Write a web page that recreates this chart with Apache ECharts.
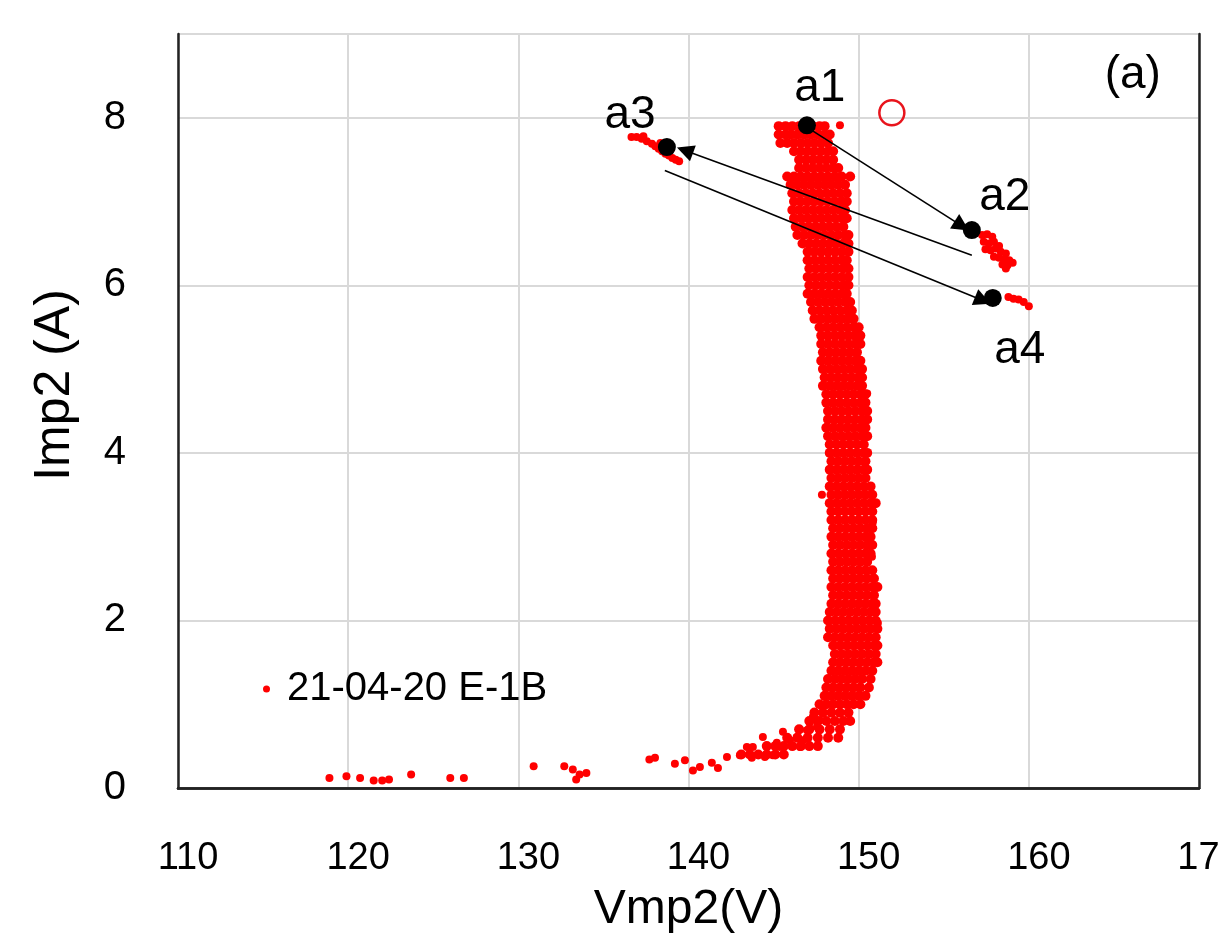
<!DOCTYPE html>
<html><head><meta charset="utf-8">
<script src="https://cdn.jsdelivr.net/npm/echarts@6/dist/echarts.min.js"></script>
<style>html,body{margin:0;padding:0;background:#fff}#c{width:1221px;height:934px}</style>
</head><body><div id="c"></div>
<script>
// ---- data ----
const seriesName = '21-04-20 E-1B';
const xTicks = [110, 120, 130, 140, 150, 160, 170];
const yTicks = [0, 2, 4, 6, 8];

// main band: current level of each row, and the voltages of the dots on that row
const bandCurrent = [7.9,7.8,7.7,7.6,7.5,7.4,7.3,7.2,7.1,7.0,6.9,6.8,6.7,6.6,6.5,6.4,6.3,6.2,6.1,6.0,
  5.9,5.8,5.7,5.6,5.5,5.4,5.3,5.2,5.1,5.0,4.9,4.8,4.7,4.6,4.5,4.4,4.3,4.2,4.1,4.0,
  3.9,3.8,3.7,3.6,3.5,3.4,3.3,3.2,3.1,3.0,2.9,2.8,2.7,2.6,2.5,2.4,2.3,2.2,2.1,2.0,
  1.9,1.8,1.7,1.6,1.5,1.4,1.3,1.2,1.1,1.0,0.9,0.8,0.7,0.6,0.5,0.4];
const bandVoltage = [
  [145.3,145.7,146.1,146.5,147.3,147.7,148.0],
  [145.3,145.7,146.0,146.4,146.8,147.2,147.6,148.0,148.3],
  [145.4,145.8,146.2,146.6,147.0,147.4,147.8,148.2],
  [146.2,146.6,147.0,147.4,147.8,148.2,148.5],
  [146.5,146.9,147.3,147.7,148.1,148.5],
  [146.5,146.9,147.3,147.7,148.1,148.5,148.8],
  [145.8,146.2,146.6,147.0,147.4,147.8,148.2,148.6,149.0,149.5],
  [146.0,146.4,146.8,147.2,147.6,148.0,148.4,148.8,149.2],
  [146.1,146.5,146.9,147.3,147.7,148.1,148.5,148.9,149.3],
  [146.2,146.6,147.0,147.4,147.8,148.2,148.6,149.0,149.3],
  [146.1,146.5,146.9,147.3,147.7,148.1,148.5,148.9,149.2],
  [146.2,146.6,147.0,147.4,147.8,148.2,148.6,149.0,149.3],
  [146.3,146.7,147.1,147.5,147.9,148.3,148.7,149.1],
  [146.4,146.8,147.2,147.6,148.0,148.4,148.8,149.2,149.4],
  [146.7,147.1,147.5,147.9,148.3,148.7,149.1,149.4],
  [147.0,147.4,147.8,148.2,148.6,149.0,149.4],
  [147.0,147.4,147.8,148.2,148.6,149.0,149.3],
  [147.1,147.5,147.9,148.3,148.7,149.1,149.4],
  [147.0,147.4,147.8,148.2,148.6,149.0,149.4],
  [147.1,147.5,147.9,148.3,148.7,149.1,149.4],
  [147.0,147.4,147.8,148.2,148.6,149.0,149.3],
  [147.2,147.6,148.0,148.4,148.8,149.2,149.5],
  [147.3,147.7,148.1,148.5,148.9,149.3,149.6],
  [147.4,147.8,148.2,148.6,149.0,149.4,149.7],
  [147.7,148.1,148.5,148.9,149.3,149.7,150.0],
  [147.8,148.2,148.6,149.0,149.4,149.8,150.1],
  [147.8,148.2,148.6,149.0,149.4,149.8,150.1],
  [147.9,148.3,148.7,149.1,149.5,149.9],
  [147.8,148.2,148.6,149.0,149.4,149.8,150.1],
  [147.9,148.3,148.7,149.1,149.5,149.9,150.2],
  [148.0,148.4,148.8,149.2,149.6,150.0,150.2],
  [147.9,148.3,148.7,149.1,149.5,149.9,150.2],
  [148.1,148.5,148.9,149.3,149.7,150.1,150.4],
  [148.1,148.5,148.9,149.3,149.7,150.1,150.4],
  [148.2,148.6,149.0,149.4,149.8,150.2,150.5],
  [148.2,148.6,149.0,149.4,149.8,150.2,150.5],
  [148.1,148.5,148.9,149.3,149.7,150.1,150.4],
  [148.2,148.6,149.0,149.4,149.8,150.2,150.5],
  [148.3,148.7,149.1,149.5,149.9,150.3],
  [148.3,148.7,149.1,149.5,149.9,150.3,150.5],
  [148.4,148.8,149.2,149.6,150.0,150.4],
  [148.3,148.7,149.1,149.5,149.9,150.3,150.5],
  [148.4,148.8,149.2,149.6,150.0,150.4],
  [148.3,148.7,149.1,149.5,149.9,150.3,150.7],
  [148.4,148.8,149.2,149.6,150.0,150.4,150.8],
  [148.3,148.7,149.1,149.5,149.9,150.3,150.7,151.0],
  [148.4,148.8,149.2,149.6,150.0,150.4,150.8],
  [148.4,148.8,149.2,149.6,150.0,150.4,150.8],
  [148.5,148.9,149.3,149.7,150.1,150.5,150.8],
  [148.4,148.8,149.2,149.6,150.0,150.4,150.7],
  [148.5,148.9,149.3,149.7,150.1,150.5,150.8],
  [148.4,148.8,149.2,149.6,150.0,150.4,150.7],
  [148.5,148.9,149.3,149.7,150.1,150.5],
  [148.4,148.8,149.2,149.6,150.0,150.4,150.8],
  [148.5,148.9,149.3,149.7,150.1,150.5,150.9],
  [148.4,148.8,149.2,149.6,150.0,150.4,150.8,151.1],
  [148.5,148.9,149.3,149.7,150.1,150.5,150.9],
  [148.4,148.8,149.2,149.6,150.0,150.4,150.8,151.0],
  [148.3,148.7,149.1,149.5,149.9,150.3,150.7,151.0],
  [148.2,148.6,149.0,149.4,149.8,150.2,150.6,151.0],
  [148.3,148.7,149.1,149.5,149.9,150.3,150.7,151.1],
  [148.2,148.6,149.0,149.4,149.8,150.2,150.6,151.0],
  [148.5,148.9,149.3,149.7,150.1,150.5,150.9,151.1],
  [148.6,149.0,149.4,149.8,150.2,150.6,151.0],
  [148.5,148.9,149.3,149.7,150.1,150.5,150.9,151.1],
  [148.4,148.8,149.2,149.6,150.0,150.4,150.8],
  [148.2,148.6,149.0,149.4,149.8,150.2,150.7],
  [148.1,148.5,148.9,149.3,149.7,150.1,150.6],
  [148.0,148.4,148.8,149.2,149.6,150.0,150.4],
  [147.7,148.1,148.5,148.9,149.3,149.7,150.1],
  [147.4,147.9,148.4,148.9,149.4],
  [147.1,147.6,148.1,148.6,149.1,149.5],
  [146.5,147.1,147.7,148.3,148.9],
  [145.8,146.4,147.0,147.6,148.2,148.8],
  [144.6,145.1,145.6,146.1,146.6,147.1,147.6],
  [143.1,143.6,144.1,144.6,145.1,145.6]
];
// stray dots and the low-current tail
const tailVoltage = [148.9,147.84,150.83,150.78,151.13,150.5,
  138.03,139.2,139.79,140.26,140.67,141.37,141.73,142.26,143.02,143.43,143.78,143.72,144.37,144.49,144.96,
  145.19,145.37,145.55,145.96,146.37,146.55,146.72,146.96,147.13,147.31,147.55,147.72,
  118.9,119.9,120.7,121.5,122.0,122.4,123.7,126.0,126.8,130.9,132.7,133.2,133.6,134.0,133.4,137.7];
const tailCurrent = [7.91,3.5,3.17,2.76,1.97,4.71,
  0.36,0.29,0.33,0.21,0.25,0.30,0.24,0.37,0.39,0.49,0.49,0.36,0.61,0.37,0.39,
  0.54,0.49,0.67,0.57,0.61,0.49,0.57,0.69,0.78,0.85,0.73,0.81,
  0.12,0.14,0.12,0.09,0.09,0.1,0.16,0.12,0.12,0.26,0.26,0.22,0.16,0.18,0.1,0.34];
// cluster near a3
const a3Voltage = [136.65,136.95,137.25,137.55,137.85,138.05,138.25,138.45,138.65,138.85,139.05,139.25,139.45,138.35,138.95,137.35];
const a3Current = [7.77,7.77,7.75,7.72,7.69,7.66,7.63,7.60,7.57,7.55,7.52,7.50,7.48,7.70,7.62,7.78];
// cluster near a2
const a2Voltage = [157.25,157.55,157.85,157.35,157.65,157.95,158.25,157.45,157.75,158.05,158.35,158.65,157.95,158.25,158.55,158.85,158.45,158.75,159.05,158.65];
const a2Current = [6.60,6.61,6.58,6.52,6.50,6.52,6.47,6.43,6.42,6.44,6.40,6.38,6.34,6.33,6.31,6.30,6.25,6.24,6.27,6.20];
// cluster near a4
const a4Voltage = [158.8,159.1,159.4,159.7,160.0];
const a4Current = [5.86,5.84,5.83,5.80,5.75];

// marked points a1..a4 (black) and the open circle
const keyNames = ['a1','a2','a3','a4'];
const keyVoltage = [146.96, 156.65, 138.73, 157.88];
const keyCurrent = [7.91, 6.66, 7.65, 5.85];
const openCircleV = [151.95];
const openCircleI = [8.06];
// text labels
const labelText = ['a1','a2','a3','a4','(a)'];
const labelVoltage = [147.72, 158.59, 136.56, 159.47, 166.11];
const labelCurrent = [8.35, 7.05, 8.03, 5.23, 8.51];
// arrows: start V, start I, end V, end I
const arrowStartV = [147.25, 156.65, 138.61];
const arrowStartI = [7.85, 6.36, 7.37];
const arrowEndV = [156.06, 139.79, 157.3];
const arrowEndI = [6.71, 7.61, 5.82];

// ---- build ----
const bandData = [];
bandCurrent.forEach((c, r) => bandVoltage[r].forEach(v => bandData.push([v, c])));
const otherData = [];
tailVoltage.forEach((v, k) => otherData.push([v, tailCurrent[k]]));
a3Voltage.forEach((v, k) => otherData.push([v, a3Current[k]]));
a2Voltage.forEach((v, k) => otherData.push([v, a2Current[k]]));
a4Voltage.forEach((v, k) => otherData.push([v, a4Current[k]]));

const FONT = "'Liberation Sans', Arial, sans-serif";
const BORDER = {show: true, lineStyle: {color: '#222', width: 2.5}};
const chart = echarts.init(document.getElementById('c'), null, {renderer: 'canvas'});
chart.setOption({
  animation: false,
  backgroundColor: '#fff',
  grid: {left: 178, right: 22, top: 34, bottom: 146, containLabel: false, outerBoundsMode: 'none'},
  legend: {
    data: [{name: seriesName, icon: 'circle', itemStyle: {color: '#ff0000', opacity: 1}}],
    left: 258, top: 664, itemWidth: 7, itemHeight: 7,
    textStyle: {fontFamily: FONT, fontSize: 40, color: '#000', padding: [0, 0, 0, 12]}
  },
  xAxis: [{
    type: 'value', min: xTicks[0], max: xTicks[xTicks.length - 1], interval: 10,
    name: 'Vmp2(V)', nameLocation: 'middle', nameGap: 98,
    nameTextStyle: {fontFamily: FONT, fontSize: 48, color: '#000'},
    axisLine: BORDER, axisTick: {show: false},
    axisLabel: {fontFamily: FONT, fontSize: 38, color: '#000', margin: 52, padding: [0, 0, 0, 20]},
    splitLine: {show: true, lineStyle: {color: '#d9d9d9', width: 2}}
  }, {
    type: 'value', position: 'top', min: xTicks[0], max: xTicks[xTicks.length - 1], interval: 10,
    axisLine: BORDER, axisTick: {show: false}, axisLabel: {show: false}, splitLine: {show: false}
  }],
  yAxis: [{
    type: 'value', min: 0, max: 9, interval: 2,
    name: 'Imp2 (A)', nameLocation: 'middle', nameGap: 98,
    nameTextStyle: {fontFamily: FONT, fontSize: 50, color: '#000', padding: [0, 0, 0, 52]},
    axisLine: BORDER, axisTick: {show: false},
    axisLabel: {fontFamily: FONT, fontSize: 40, color: '#000', margin: 52, showMaxLabel: false,
      formatter: v => yTicks.includes(v) ? String(v) : ''},
    splitLine: {show: true, lineStyle: {color: '#d9d9d9', width: 2}}
  }, {
    type: 'value', position: 'right', min: 0, max: 9, interval: 2,
    axisLine: BORDER, axisTick: {show: false}, axisLabel: {show: false}, splitLine: {show: false}
  }],
  series: [
    {
      name: seriesName, type: 'scatter', symbol: 'circle', symbolSize: 10,
      itemStyle: {color: '#ff0000', opacity: 1}, data: bandData, z: 2
    },
    {
      name: seriesName, type: 'scatter', symbol: 'circle', symbolSize: 8,
      itemStyle: {color: '#ff0000', opacity: 1}, data: otherData, z: 2
    },
    {
      name: 'arrows', type: 'lines', coordinateSystem: 'cartesian2d',
      symbol: ['none', 'triangle'], symbolSize: [1, 17],
      lineStyle: {color: '#000', width: 1.6, opacity: 1},
      data: arrowStartV.map((v, k) => ({coords: [[v, arrowStartI[k]], [arrowEndV[k], arrowEndI[k]]]})),
      z: 3
    },
    {
      name: 'keys', type: 'scatter', symbol: 'circle', symbolSize: 18,
      itemStyle: {color: '#000', opacity: 1},
      data: keyVoltage.map((v, k) => ({name: keyNames[k], value: [v, keyCurrent[k]]})), z: 4
    },
    {
      name: 'open', type: 'scatter', symbol: 'circle', symbolSize: 25,
      itemStyle: {color: 'rgba(0,0,0,0)', borderColor: '#e8141c', borderWidth: 2.5, opacity: 1},
      data: openCircleV.map((v, k) => [v, openCircleI[k]]), z: 4
    },
    {
      name: 'labels', type: 'scatter', symbolSize: 1, symbol: 'circle',
      itemStyle: {color: 'rgba(0,0,0,0)', opacity: 1},
      label: {show: true, position: 'inside', formatter: p => p.name, fontFamily: FONT, fontSize: 46, color: '#000', opacity: 1},
      data: labelText.map((t, k) => ({name: t, value: [labelVoltage[k], labelCurrent[k]]})), z: 5
    }
  ]
});
</script></body></html>
